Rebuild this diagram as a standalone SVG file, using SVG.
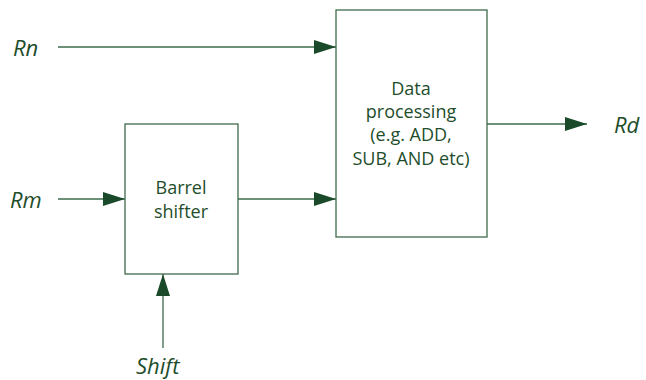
<svg xmlns="http://www.w3.org/2000/svg" width="646" height="380" viewBox="0 0 646 380">
<defs>
<marker id="ah" markerWidth="22" markerHeight="14" refX="22" refY="7" orient="auto" markerUnits="userSpaceOnUse">
<path d="M0,0 L22,7 L0,14 Z" fill="#1b4a2a"/>
</marker>
<style>
.box{fill:#fff;stroke:#3d6b4b;stroke-width:1.3}
.ln{stroke:#3d6b4b;stroke-width:1.3;fill:none}
.lbl{font-family:"Open Sans","Liberation Sans",sans-serif;font-size:18px;fill:#1e4d2b;text-anchor:middle}
.io{font-family:"Open Sans","Liberation Sans",sans-serif;font-size:22px;font-style:italic;fill:#1e4d2b}
</style>
</defs>
<rect width="646" height="380" fill="#fff"/>
<g id="connectors">
<line class="ln" x1="58" y1="47" x2="336" y2="47" marker-end="url(#ah)"/>
<line class="ln" x1="58" y1="199" x2="125" y2="199" marker-end="url(#ah)"/>
<line class="ln" x1="238" y1="199" x2="336" y2="199" marker-end="url(#ah)"/>
<line class="ln" x1="487" y1="124" x2="587" y2="124" marker-end="url(#ah)"/>
<line class="ln" x1="163" y1="348" x2="163" y2="274" marker-end="url(#ah)"/>
</g>
<g id="data-processing">
<rect class="box" x="336" y="10" width="151" height="227"/>
<text class="lbl" x="411" y="95">Data</text>
<text class="lbl" x="411" y="118">processing</text>
<text class="lbl" x="411" y="141">(e.g. ADD,</text>
<text class="lbl" x="411" y="165">SUB, AND etc)</text>
</g>
<g id="barrel-shifter">
<rect class="box" x="125" y="124" width="113" height="150"/>
<text class="lbl" x="181" y="194">Barrel</text>
<text class="lbl" x="181" y="218">shifter</text>
</g>
<g id="rn"><text class="io" x="13" y="56">Rn</text></g>
<g id="rm"><text class="io" x="10" y="208">Rm</text></g>
<g id="rd"><text class="io" x="614" y="133">Rd</text></g>
<g id="shift"><text class="io" x="136" y="374">Shift</text></g>
</svg>
